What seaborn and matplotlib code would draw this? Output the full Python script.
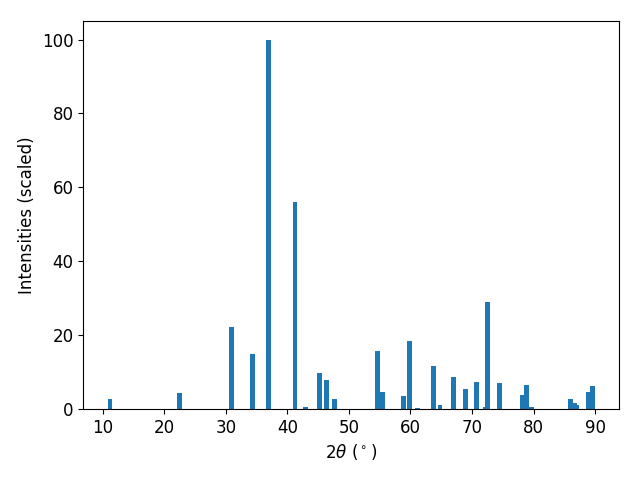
import matplotlib
matplotlib.use("Agg")
import matplotlib.pyplot as plt
import seaborn as sns

# peak positions (2theta, degrees) and scaled intensities
two_theta = [11.2, 22.5, 31.0, 34.3, 37.0, 41.25, 42.9, 45.3, 46.3, 47.6,
             54.7, 55.4, 58.8, 59.8, 61.1, 63.7, 64.8, 66.95, 68.9, 70.7,
             72.2, 72.5, 74.4, 78.2, 78.8, 79.6, 86.0, 86.6, 87.0, 88.9, 89.5]
intensity = [2.7, 4.3, 22.2, 14.9, 100.0, 56.1, 0.5, 9.7, 7.9, 2.7,
             15.7, 4.6, 3.5, 18.4, 0.3, 11.6, 1.1, 8.7, 5.4, 7.3,
             0.5, 29.0, 7.0, 3.8, 6.5, 0.5, 2.7, 1.6, 1.1, 4.6, 6.2]

color = sns.color_palette("tab10")[0]

fig, ax = plt.subplots(figsize=(6.4, 4.8))
ax.bar(two_theta, intensity, width=0.8, color=color)

ax.set_xlabel(r'$2\theta$ ($^\circ$)', fontsize=12)
ax.set_ylabel('Intensities (scaled)', fontsize=12)
ax.tick_params(labelsize=12)

fig.subplots_adjust(left=0.13, right=0.967, top=0.956, bottom=0.148)
fig.savefig('out.png', dpi=100)
